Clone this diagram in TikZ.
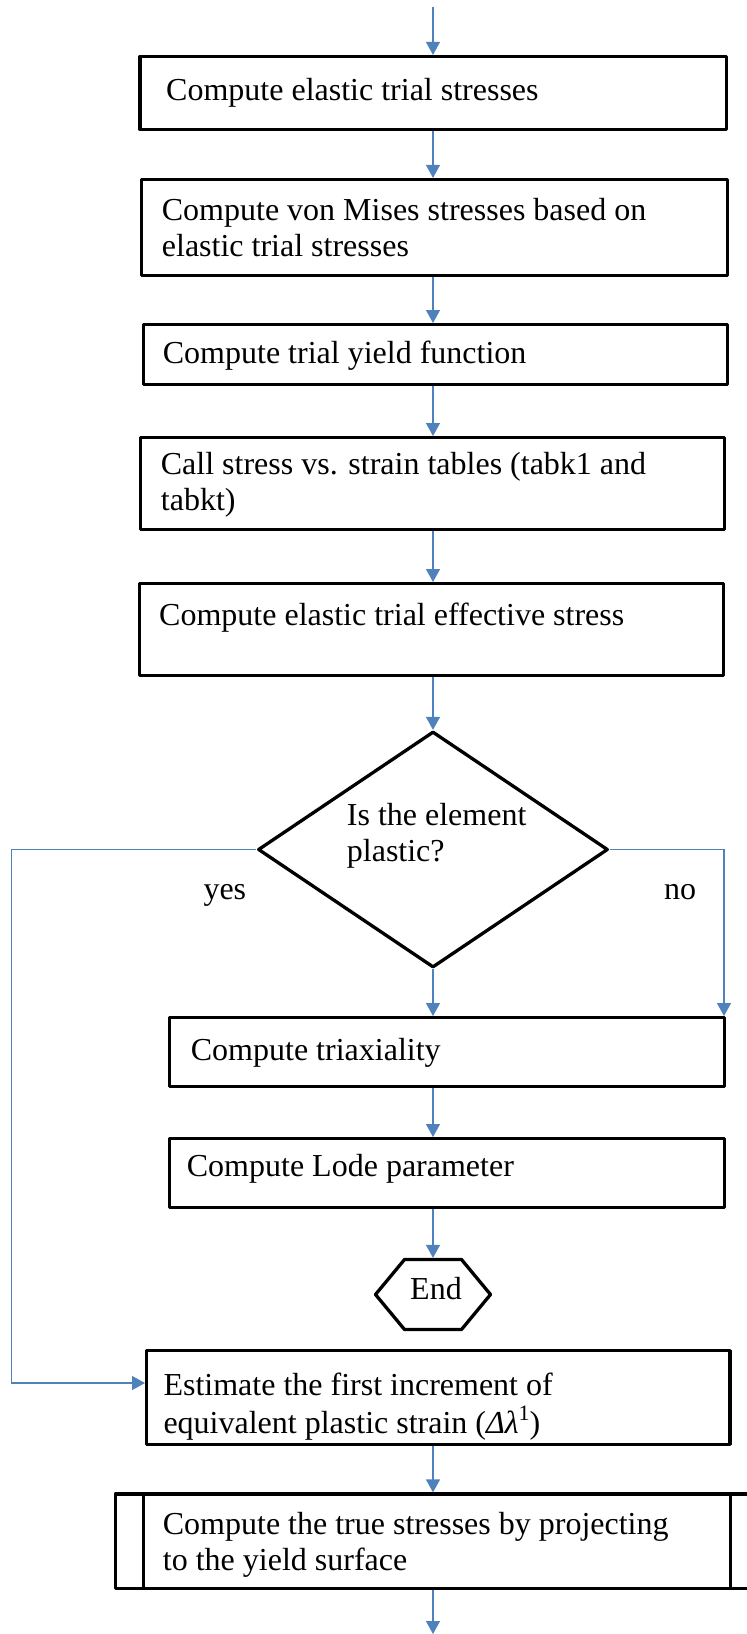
\documentclass[tikz,border=0pt]{standalone}
\usepackage{fontspec}
\setmainfont{Liberation Serif}
\usetikzlibrary{arrows.meta,shapes.geometric}
\definecolor{flowblue}{RGB}{79,129,189}
% multi-line label whose baseline is the first line
\newcommand\flowlines[1]{\begin{tabular}[t]{@{}l@{}}#1\end{tabular}}
% raised exponent at a fixed size
\newcommand\flowsup[1]{\raisebox{0.4em}{\fontsize{22}{22}\selectfont #1}}

\begin{document}
\begin{tikzpicture}[x=1pt,y=-1pt,
  stepbox/.style={draw=black,line width=3.3pt,line join=round,rectangle,inner sep=0pt},
  flowtext/.style={anchor=base west,inner sep=0pt,font=\fontsize{32}{36.8}\selectfont},
  flow/.style={draw=flowblue,line width=1.3pt,-{Triangle[width=14pt,length=13pt]}}]
\useasboundingbox (0,0) rectangle (747,1634);

% process boxes
\node[stepbox,minimum width=586.7pt,minimum height=72.7pt] (b1) at (433.2,92.9) {};
\node[flowtext] (t1) at (166,100) {Compute elastic trial stresses};

\node[stepbox,minimum width=586pt,minimum height=95.7pt] (b2) at (434.5,227.4) {};
\node[flowtext] (t2) at (161.7,220) {\flowlines{Compute von Mises stresses based on\\elastic trial stresses}};

\node[stepbox,minimum width=584pt,minimum height=59.7pt] (b3) at (435.3,354.5) {};
\node[flowtext] (t3) at (162.7,363) {Compute trial yield function};

\node[stepbox,minimum width=583.7pt,minimum height=91.7pt] (b4) at (432.5,483.5) {};
\node[flowtext] (t4) at (160.7,474) {\flowlines{Call stress vs. strain tables (tabk1 and\\tabkt)}};

\node[stepbox,minimum width=583.7pt,minimum height=91.7pt] (b5) at (431.5,629.5) {};
\node[flowtext] (t5) at (159,625) {Compute elastic trial effective stress};

% decision
\node[diamond,draw=black,line width=3.3pt,line join=round,inner sep=0pt,
      minimum width=350pt,minimum height=236pt,aspect=1.48] (d) at (433,849.5) {};
\node[flowtext] (td) at (346.7,825) {\flowlines{Is the element\\plastic?}};
\node[flowtext] (yes) at (203.3,899) {yes};
\node[flowtext] (no) at (664,899) {no};

\node[stepbox,minimum width=555pt,minimum height=68.7pt] (tri) at (446.85,1052) {};
\node[flowtext] (ttri) at (190.7,1060) {Compute triaxiality};

\node[stepbox,minimum width=555pt,minimum height=68.7pt] (lode) at (446.85,1173) {};
\node[flowtext] (tlode) at (186.7,1176) {Compute Lode parameter};

% terminator
\node[inner sep=0pt,outer sep=0pt,minimum width=115pt,minimum height=70pt] (endhex) at (433,1294.5) {};
\draw[line width=3.3pt,line join=round] (endhex.west) -- ([xshift=-28.5pt]endhex.north)
  -- ([xshift=28.5pt]endhex.north) -- (endhex.east) -- ([xshift=28.5pt]endhex.south)
  -- ([xshift=-28.5pt]endhex.south) -- cycle;
\node[flowtext] (tend) at (410,1299) {End};

\node[stepbox,minimum width=583.4pt,minimum height=93.7pt] (est) at (438.35,1397.5) {};
\node[flowtext] (test) at (163.3,1395) {\flowlines{Estimate the first increment of\\equivalent plastic strain ({\itshape Δλ}\flowsup{1})}};

% predefined process
\node[stepbox,outer sep=0pt,minimum width=643.4pt,minimum height=94.7pt] (pp) at (437,1541.35) {};
\draw[line width=3.3pt] ([xshift=28.2pt]pp.north west) -- ([xshift=28.2pt]pp.south west);
\draw[line width=3.3pt] ([xshift=-28.2pt]pp.north east) -- ([xshift=-28.2pt]pp.south east);
\node[flowtext] (tpp) at (162.7,1534) {\flowlines{Compute the true stresses by projecting\\to the yield surface}};

% connectors
\coordinate (sp) at (433,0);
\coordinate (top) at (433,7);
\coordinate (bot) at (433,1634);
\coordinate (yc) at (11.4,1383);
\coordinate (nc) at (724,0);

\draw[flow] (top) -- (b1.north -| sp);
\draw[flow] (b1.south -| sp) -- (b2.north -| sp);
\draw[flow] (b2.south -| sp) -- (b3.north -| sp);
\draw[flow] (b3.south -| sp) -- (b4.north -| sp);
\draw[flow] (b4.south -| sp) -- (b5.north -| sp);
\draw[flow] (b5.south -| sp) -- (d.north);
\draw[flow] (d.south) -- (tri.north -| sp);
\draw[flow] (tri.south -| sp) -- (lode.north -| sp);
\draw[flow,shorten >=1.65pt] (lode.south -| sp) -- (endhex.north);
\draw[flow] (d.west) -| (yc) -- (yc -| est.west);
\draw[flow] (d.east) -| (nc |- tri.north);
\draw[flow,shorten >=1.65pt] (est.south -| sp) -- (pp.north -| sp);
\draw[flow,shorten <=1.65pt] (pp.south -| sp) -- (bot);
\end{tikzpicture}
\end{document}
